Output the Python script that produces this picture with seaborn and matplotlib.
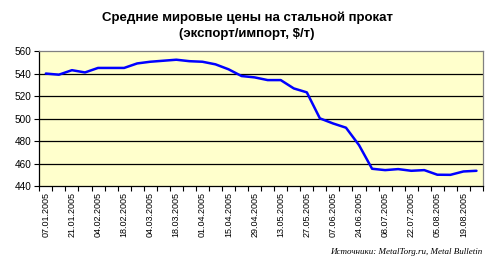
import matplotlib
matplotlib.use("Agg")
import matplotlib.pyplot as plt
import seaborn as sns
import pandas as pd
import numpy as np

weeks = ["07.01.2005", "14.01.2005", "21.01.2005", "28.01.2005", "04.02.2005", "11.02.2005",
         "18.02.2005", "25.02.2005", "04.03.2005", "11.03.2005", "18.03.2005", "25.03.2005",
         "01.04.2005", "08.04.2005", "15.04.2005", "22.04.2005", "29.04.2005", "06.05.2005",
         "13.05.2005", "20.05.2005", "27.05.2005", "03.06.2005", "07.06.2005", "17.06.2005",
         "24.06.2005", "01.07.2005", "08.07.2005", "15.07.2005", "22.07.2005", "29.07.2005",
         "05.08.2005", "12.08.2005", "19.08.2005", "26.08.2005"]
prices = [540, 539, 543, 541, 545, 545, 545, 549, 550.5, 551.4, 552.3, 551, 550.5, 548.2,
          543.8, 537.8, 536.6, 534.2, 534.2, 526.8, 523.3, 500.2, 495.7, 491.9, 476.4,
          455.4, 454.2, 455.1, 453.6, 454.2, 450.1, 450, 453, 453.6]
yticks = [440, 460, 480, 500, 520, 540, 560]
title = "Средние мировые цены на стальной прокат\n(экспорт/импорт, $/т)"
source = "Источники: MetalTorg.ru, Metal Bulletin"

sns.set_style("white")
plt.rcParams['font.family'] = ['Liberation Sans', 'DejaVu Sans']
plt.rcParams['text.color'] = 'black'
plt.rcParams['xtick.color'] = 'black'
plt.rcParams['ytick.color'] = 'black'

df = pd.DataFrame({"pos": np.arange(len(weeks)), "price": prices})

fig = plt.figure(figsize=(5.0, 2.79), dpi=100)
ax = fig.add_axes([0.0786, 0.333, 0.8874, 0.484])
ax.set_facecolor("#FFFFCC")

for v in yticks[1:-1]:
    ax.axhline(v, color="black", lw=0.9, zorder=1)

sns.lineplot(data=df, x="pos", y="price", ax=ax, color="#0000FF", lw=1.8, zorder=3)

ax.set_xlim(-0.5, len(weeks) - 0.5)
ax.set_ylim(440, 560)
ax.set_yticks(yticks)
ax.set_yticklabels([str(v) for v in yticks], fontsize=7.2)
ax.set_xticks(np.arange(-0.5, len(weeks), 1.0))
ax.set_xticklabels([])
ax.set_xticks(np.arange(0, len(weeks), 2), minor=True)
ax.set_xticklabels(weeks[::2], minor=True, rotation=90, fontsize=6.5)
ax.tick_params(axis="x", which="minor", length=0, pad=4)
ax.tick_params(axis="x", which="major", length=3.5, width=0.8, color="black", direction="out", bottom=True)
ax.tick_params(axis="y", length=3.5, width=0.8, color="black", direction="out", left=True, pad=2)
ax.set_xlabel("")
ax.set_ylabel("")

for s in ["left", "bottom"]:
    ax.spines[s].set_color("black")
    ax.spines[s].set_linewidth(0.9)
for s in ["top", "right"]:
    ax.spines[s].set_color("#808080")
    ax.spines[s].set_linewidth(0.9)

fig.text(0.494, 0.96, title, ha="center", va="top", fontsize=9.5, fontweight="bold",
         linespacing=1.5, color="black")
fig.text(0.964, 0.095, source, ha="right", va="center", fontsize=6.5,
         family=["Liberation Serif", "DejaVu Serif"], style="italic", color="black")

fig.savefig("out.png", dpi=100, facecolor="white")
